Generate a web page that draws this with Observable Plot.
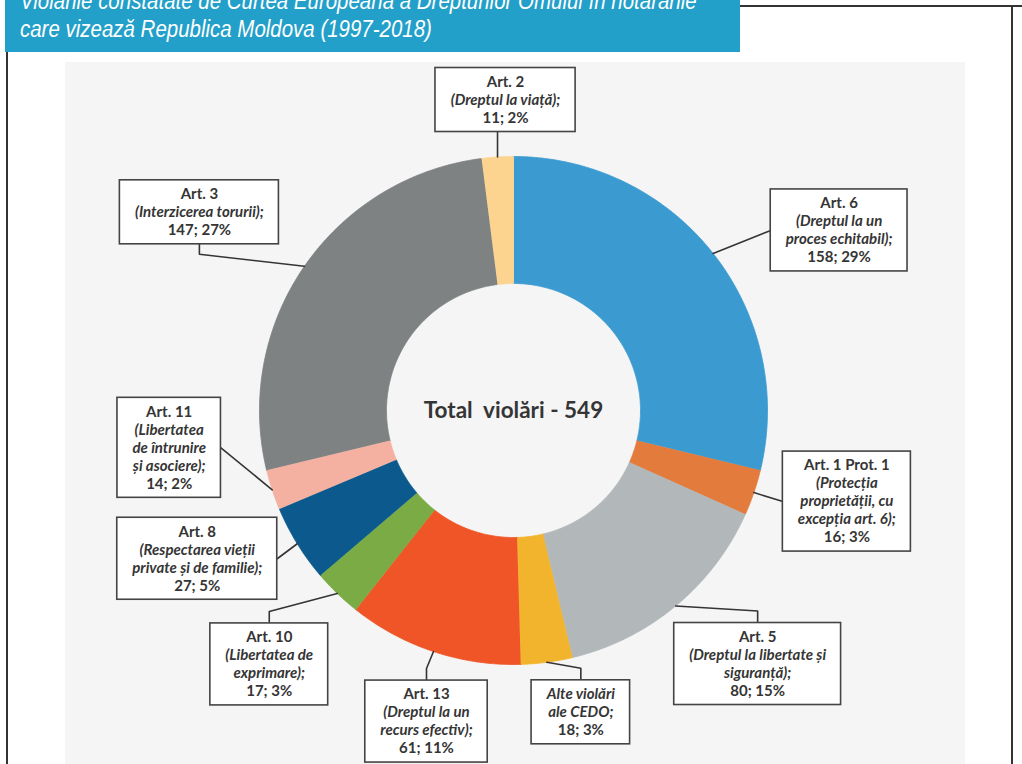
<!DOCTYPE html>
<html><head><meta charset="utf-8">
<script src="https://cdn.jsdelivr.net/npm/d3@7"></script>
<script src="https://cdn.jsdelivr.net/npm/@observablehq/plot@0.6"></script>
<style>
html,body{margin:0;padding:0;background:#fff;}
body{width:1022px;height:764px;position:relative;overflow:hidden;font-family:Lato,sans-serif;}
#panel{position:absolute;left:65px;top:62px;width:900px;height:702px;background:#f5f5f5;}
#chart{position:absolute;left:0;top:0;}
#header{position:absolute;left:5px;top:0;width:735px;height:52px;background:#23a0c9;color:#fff;z-index:2;overflow:hidden;}
#header .t{position:absolute;left:15px;font-family:"Liberation Sans",Arial,sans-serif;font-style:italic;font-size:23px;line-height:30px;white-space:nowrap;transform:scaleX(0.89);transform-origin:0 0;}
#lineTop{position:absolute;left:740px;top:5px;width:282px;height:2px;background:#333;}
#lineLeft{position:absolute;left:6px;top:52px;width:2px;height:712px;background:#333;}
#lineRight{position:absolute;left:1011px;top:6px;width:2px;height:758px;background:#333;}
</style></head>
<body>
<div id="panel"></div>
<div id="chart"></div>
<div id="header"><div class="t" style="top:-14px">Violările constatate de Curtea Europeană a Drepturilor Omului în hotărârile</div><div class="t" style="top:14px">care vizează Republica Moldova (1997-2018)</div></div>
<div id="lineTop"></div><div id="lineLeft"></div><div id="lineRight"></div>
<script>
// ---- data ----
const categories = ["Art. 6","Art. 1 Prot. 1","Art. 5","Alte violări","Art. 13","Art. 10","Art. 8","Art. 11","Art. 3","Art. 2"];
const titles = ["Art. 6","Art. 1 Prot. 1","Art. 5","","Art. 13","Art. 10","Art. 8","Art. 11","Art. 3","Art. 2"];
const descriptions = [
  ["(Dreptul la un","proces echitabil);"],
  ["(Protecția","proprietății, cu","excepția art. 6);"],
  ["(Dreptul la libertate și","siguranță);"],
  ["Alte violări","ale CEDO;"],
  ["(Dreptul la un","recurs efectiv);"],
  ["(Libertatea de","exprimare);"],
  ["(Respectarea vieții","private și de familie);"],
  ["(Libertatea","de întrunire","și asociere);"],
  ["(Interzicerea torurii);"],
  ["(Dreptul la viață);"]
];
const values = [158,16,80,18,61,17,27,14,147,11];
const percents = [29,3,15,3,11,3,5,2,27,2];
const colors = ["#3b9ad0","#e27b3c","#b2b7b9","#f2b42c","#ef5526","#7bab44","#0c5a8d","#f4b1a1","#7e8283","#fdd48f"];

// ---- layout (label nudges, px from slice outer mid-point) ----
const nudges = [
  {dx:126,dy:-23,side:"left"},{dx:93,dy:9,side:"left"},{dx:82,dy:58,side:"top"},
  {dx:34,dy:50,side:"top"},{dx:-7,dy:70,side:"top"},{dx:-68,dy:71,side:"top"},
  {dx:-100,dy:15,side:"right"},{dx:-103,dy:-42,side:"right"},{dx:-105,dy:-54,side:"bottom"},
  {dx:8,dy:-57,side:"vertical"}
];
const W = 1022, H = 764, CX = 513, CY = 410, R = 254, R0 = 127, LH = 18, FS = 15;
const ink = "#353535";

const total = d3.sum(values);
const canvas = document.createElement("canvas").getContext("2d");
function measure(t, italic){ canvas.font = (italic?"italic ":"")+"bold "+FS+"px Lato"; return canvas.measureText(t).width; }
function pt(a, rad){ return {x: rad*Math.sin(a), y: rad*Math.cos(a)}; }

let acc = 0;
const slices = [], leaders = [], boxes = [], lines = [];
categories.forEach((key,i)=>{
  const a0 = acc/total*2*Math.PI; acc += values[i];
  const a1 = acc/total*2*Math.PI;
  const mid = (a0+a1)/2;
  const pts = [];
  const n = Math.max(4, Math.ceil((a1-a0)/(Math.PI/360)));
  for(let k=0;k<=n;k++){ pts.push(pt(a0+(a1-a0)*k/n, R)); }
  for(let k=n;k>=0;k--){ pts.push(pt(a0+(a1-a0)*k/n, R0)); }
  slices.push({key, color: colors[i], pts});
  const o = pt(mid, R);
  const nd = nudges[i];
  const bx = o.x + nd.dx, by = o.y - nd.dy; // y up
  const txt = [];
  if (titles[i]) txt.push({t:titles[i], italic:false});
  descriptions[i].forEach(t=>txt.push({t, italic:true}));
  txt.push({t:`${values[i]}; ${percents[i]}%`, italic:false});
  const w = d3.max(txt, d=>measure(d.t,d.italic)) + 30;
  const h = txt.length*LH + 10;
  boxes.push({key, x1:bx-w/2, x2:bx+w/2, y1:by-h/2, y2:by+h/2});
  txt.forEach((d,j)=>lines.push({key, x:bx, y:by + ((txt.length-1)/2 - j)*LH, text:d.t, italic:d.italic}));
  let path;
  if (nd.side==="left") path=[o,{x:bx-w/2,y:by}];
  else if (nd.side==="right") path=[o,{x:bx+w/2,y:by}];
  else if (nd.side==="top") path=[o,{x:bx,y:by+h/2+12},{x:bx,y:by+h/2}];
  else if (nd.side==="bottom") path=[o,{x:bx,y:by-h/2-10},{x:bx,y:by-h/2}];
  else path=[o,{x:o.x,y:by-h/2}];
  path.forEach(p=>leaders.push({key, x:p.x, y:p.y}));
});

const chart = Plot.plot({
  width: W, height: H, margin: 0,
  x: {domain: [-CX, W-CX], axis: null},
  y: {domain: [-(H-CY), CY], axis: null},
  style: {background: "transparent", overflow: "visible"},
  marks: [
    ...slices.map(s => Plot.line(s.pts, {x:"x", y:"y", fill: s.color, stroke: s.color, strokeWidth: 0.8, curve:"linear"})),
    Plot.line(leaders, {x:"x", y:"y", z:"key", stroke: ink, strokeWidth: 1.6}),
    Plot.rect(boxes, {x1:"x1", x2:"x2", y1:"y1", y2:"y2", fill:"white", stroke:"#444", strokeWidth:1.6}),
    Plot.text(lines.filter(d=>!d.italic), {x:"x", y:"y", text:"text", fontWeight:"bold", fontSize:FS, fontFamily:"Lato", fill: ink}),
    Plot.text(lines.filter(d=>d.italic), {x:"x", y:"y", text:"text", fontWeight:"bold", fontStyle:"italic", fontSize:FS, fontFamily:"Lato", fill: ink}),
    Plot.text([{x:0,y:0,t:`Total\u00a0 violări - ${total}`}], {x:"x", y:"y", text:"t", fontWeight:"bold", fontSize:22.5, fontFamily:"Lato", fill: ink})
  ]
});
document.getElementById("chart").appendChild(chart);
</script>
</body></html>
